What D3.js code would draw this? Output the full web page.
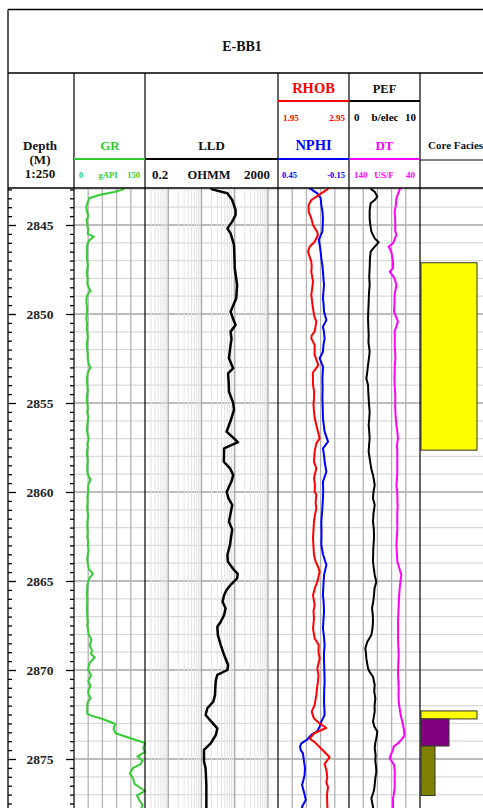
<!DOCTYPE html>
<html>
<head>
<meta charset="utf-8">
<script src="https://cdn.jsdelivr.net/npm/d3@7"></script>
<style>
  body{margin:0;background:#fff;}
  svg{display:block;font-family:"Liberation Serif","Times New Roman",serif;font-weight:bold;}
</style>
</head>
<body>
<svg id="log" width="483" height="808"></svg>
<script>
// well and curves: [depth (m), value]
const wellName = 'E-BB1';

const GR = [[2842.9,106],[2843.0,104],[2843.15,85],[2843.3,55],[2843.5,32],[2843.8,28],[2844.0,26],[2844.2,27],[2844.5,30],[2844.7,27],[2845.0,28],[2845.3,30],[2845.5,29],[2845.65,42],[2845.85,33],[2846.0,29],[2846.3,27],[2846.5,28],[2846.8,27],[2847,28],[2847.3,29],[2847.5,28],[2847.8,27],[2848,29],[2848.3,28],[2848.5,31],[2848.7,35],[2848.9,29],[2849,27],[2849.3,26],[2849.5,27],[2849.8,28],[2850,27],[2850.3,26],[2850.5,28],[2850.8,27],[2851,28],[2851.3,29],[2851.5,28],[2851.8,27],[2852,28],[2852.3,29],[2852.5,29],[2852.8,31],[2853,35],[2853.3,29],[2853.7,27],[2854,28],[2854.3,29],[2854.5,28],[2854.8,27],[2855,28],[2855.3,29],[2855.5,28],[2855.8,30],[2856,29],[2856.3,28],[2856.5,27],[2856.8,29],[2857,31],[2857.3,28],[2857.5,29],[2857.8,27],[2858,28],[2858.3,29],[2858.5,28],[2858.8,28],[2859,29],[2859.3,35],[2859.6,30],[2860,30],[2860.3,28],[2860.5,29],[2860.8,28],[2861,28],[2861.3,30],[2861.5,29],[2861.8,28],[2862,28],[2862.3,29],[2862.5,28],[2862.8,30],[2863,29],[2863.3,31],[2863.5,29],[2863.8,28],[2864,29],[2864.3,31],[2864.6,40],[2864.8,34],[2865,30],[2865.3,28],[2865.5,28],[2865.8,27],[2866,28],[2866.3,28],[2866.5,27],[2866.8,28],[2867,28],[2867.3,29],[2867.5,28],[2867.8,30],[2868,31],[2868.3,37],[2868.6,33],[2868.9,38],[2869.1,36],[2869.3,44],[2869.6,33],[2869.8,31],[2870,30],[2870.3,36],[2870.6,30],[2870.9,35],[2871.1,31],[2871.3,30],[2871.6,35],[2871.8,29],[2872,28],[2872.3,28],[2872.45,28],[2872.55,35],[2872.75,60],[2872.95,80],[2873.05,88],[2873.2,84],[2873.35,84],[2873.55,88],[2873.75,110],[2874.1,150],[2874.4,146],[2874.6,150],[2874.85,134],[2875.1,145],[2875.3,140],[2875.5,125],[2875.8,118],[2876.1,125],[2876.4,128],[2876.6,139],[2876.8,150],[2877.05,133],[2877.3,138],[2877.6,145],[2877.9,140]];

const LLD = [[2842.9,19],[2843.0,21],[2843.22,60],[2843.6,84],[2844.16,106],[2844.44,106],[2844.81,84],[2845.19,60],[2845.47,75],[2846.12,95],[2846.8,98],[2847.43,100],[2848.37,118],[2849.12,111],[2849.87,75],[2850.3,90],[2850.62,106],[2850.99,75],[2851.4,80],[2851.74,75],[2852.49,67],[2853.05,89],[2853.33,63],[2853.9,66],[2854.36,67],[2855.0,90],[2855.39,95],[2856.0,75],[2856.61,57],[2857.2,125],[2857.55,48],[2858.3,47],[2858.67,72],[2859.05,90],[2859.4,80],[2860.0,57],[2860.36,65],[2860.73,84],[2861.2,75],[2861.67,67],[2862.1,84],[2862.5,78],[2862.98,72],[2863.54,60],[2863.91,62],[2864.38,95],[2864.6,123],[2864.85,118],[2865.22,75],[2865.5,57],[2865.79,48],[2866.16,43],[2866.53,53],[2866.91,48],[2867.29,38],[2867.57,30],[2868.03,31],[2868.6,38],[2869.16,48],[2869.72,63],[2870.0,60],[2870.28,30],[2870.56,27],[2871.0,26],[2871.4,25.5],[2871.78,22.7],[2872.15,15],[2872.53,13.3],[2872.9,19.8],[2873.28,30],[2873.65,27],[2874.12,18.9],[2874.49,11.9],[2875.15,11.9],[2875.52,13.3],[2876.46,14],[2877.68,14],[2877.9,14]];

const RHOB = [[2842.9,2.66],[2843.0,2.645],[2843.22,2.56],[2843.6,2.419],[2843.88,2.382],[2844.25,2.382],[2844.63,2.419],[2845.0,2.443],[2845.37,2.50],[2845.56,2.513],[2845.94,2.466],[2846.22,2.396],[2846.5,2.373],[2847.06,2.419],[2847.34,2.425],[2847.62,2.419],[2848.18,2.443],[2848.6,2.43],[2848.93,2.419],[2849.3,2.43],[2849.68,2.443],[2850.1,2.46],[2850.43,2.49],[2850.99,2.466],[2851.2,2.425],[2851.37,2.419],[2851.74,2.466],[2852.3,2.466],[2852.87,2.518],[2853.3,2.44],[2853.99,2.443],[2854.4,2.46],[2854.74,2.457],[2855.1,2.45],[2855.49,2.457],[2855.9,2.47],[2856.24,2.49],[2856.99,2.537],[2857.27,2.49],[2857.73,2.466],[2858.3,2.457],[2858.67,2.49],[2859.0,2.47],[2859.23,2.457],[2859.6,2.47],[2859.98,2.466],[2860.17,2.49],[2860.6,2.48],[2860.92,2.49],[2861.3,2.47],[2861.67,2.457],[2862.1,2.45],[2862.6,2.443],[2863.1,2.45],[2863.54,2.457],[2863.9,2.48],[2864.19,2.513],[2864.47,2.537],[2865.04,2.504],[2865.4,2.47],[2865.79,2.443],[2866.35,2.466],[2866.7,2.45],[2867.1,2.457],[2867.66,2.443],[2868.22,2.466],[2868.6,2.523],[2869.0,2.52],[2869.35,2.537],[2869.91,2.504],[2870.3,2.52],[2870.66,2.513],[2871.0,2.50],[2871.4,2.49],[2871.97,2.466],[2872.34,2.425],[2872.73,2.457],[2873.0,2.537],[2873.26,2.63],[2873.54,2.466],[2873.85,2.396],[2874.05,2.466],[2874.52,2.584],[2874.9,2.678],[2875.27,2.607],[2875.6,2.63],[2876.02,2.645],[2876.3,2.63],[2876.58,2.654],[2877.0,2.64],[2877.61,2.645],[2877.9,2.65]];

const NPHI = [[2842.9,0.19],[2843.0,0.168],[2843.22,0.118],[2843.5,0.089],[2843.88,0.084],[2844.25,0.074],[2844.63,0.070],[2845.0,0.072],[2845.37,0.075],[2845.84,0.106],[2846.12,0.098],[2846.5,0.09],[2846.87,0.084],[2847.25,0.075],[2847.62,0.070],[2848.0,0.066],[2848.37,0.061],[2848.75,0.066],[2849.12,0.070],[2849.5,0.064],[2849.87,0.061],[2850.34,0.041],[2850.71,0.070],[2851.0,0.062],[2851.37,0.056],[2851.75,0.066],[2852.12,0.070],[2852.49,0.098],[2852.96,0.070],[2853.3,0.072],[2853.61,0.075],[2854.2,0.073],[2854.74,0.075],[2855.3,0.072],[2855.86,0.070],[2856.2,0.064],[2856.61,0.056],[2857.17,0.027],[2857.55,0.070],[2857.9,0.062],[2858.3,0.056],[2858.86,0.041],[2859.42,0.070],[2859.9,0.068],[2860.36,0.070],[2861.0,0.076],[2861.67,0.084],[2862.3,0.082],[2862.98,0.084],[2863.5,0.07],[2864.1,0.041],[2864.66,0.061],[2865.2,0.066],[2865.79,0.070],[2866.2,0.064],[2866.72,0.061],[2867.2,0.066],[2867.66,0.070],[2868.1,0.062],[2868.6,0.056],[2869.1,0.062],[2869.53,0.061],[2870.1,0.058],[2870.66,0.056],[2871.2,0.06],[2871.78,0.061],[2872.2,0.058],[2872.53,0.056],[2872.9,0.084],[2873.18,0.098],[2873.45,0.12],[2873.65,0.168],[2873.93,0.207],[2874.12,0.253],[2874.3,0.264],[2874.5,0.258],[2874.68,0.239],[2875.15,0.23],[2875.5,0.222],[2875.9,0.225],[2876.2,0.236],[2876.46,0.247],[2877.0,0.225],[2877.3,0.215],[2877.68,0.247],[2877.9,0.24]];

const PEF = [[2842.9,3.1],[2843.0,3.15],[2843.13,3.62],[2843.41,3.99],[2843.6,3.62],[2843.78,3.05],[2844.16,2.91],[2844.63,2.91],[2845.0,3.0],[2845.37,3.15],[2845.75,3.62],[2845.97,4.18],[2846.22,3.62],[2846.5,3.05],[2846.9,2.95],[2847.43,2.91],[2847.9,2.85],[2848.37,2.91],[2848.8,2.82],[2849.31,2.77],[2849.8,2.72],[2850.24,2.68],[2850.7,2.72],[2851.18,2.77],[2851.6,2.74],[2852.12,2.91],[2852.5,2.80],[2852.87,2.68],[2853.3,2.56],[2853.61,2.44],[2853.99,2.68],[2854.4,2.72],[2854.74,2.77],[2855.1,2.82],[2855.49,2.91],[2855.9,2.85],[2856.24,2.77],[2856.6,2.85],[2856.99,2.91],[2857.4,2.82],[2857.73,2.77],[2858.1,2.9],[2858.48,3.05],[2858.8,3.2],[2859.04,3.38],[2859.3,3.5],[2859.61,3.62],[2860.0,3.45],[2860.36,3.38],[2860.73,3.62],[2861.2,3.45],[2861.67,3.38],[2862.1,3.5],[2862.6,3.52],[2863.2,3.42],[2863.91,3.38],[2864.3,3.5],[2864.66,3.62],[2865.04,3.85],[2865.4,3.6],[2865.79,3.52],[2866.2,3.4],[2866.53,3.24],[2866.9,3.35],[2867.29,3.38],[2867.7,3.3],[2868.03,3.15],[2868.41,2.58],[2868.78,2.30],[2869.1,2.4],[2869.35,2.44],[2869.91,2.68],[2870.1,2.9],[2870.38,3.38],[2870.84,3.62],[2871.2,3.55],[2871.59,3.71],[2872.0,3.6],[2872.34,3.62],[2872.9,3.38],[2873.2,3.6],[2873.46,3.99],[2873.84,3.85],[2874.1,3.7],[2874.4,3.62],[2874.8,3.75],[2875.15,3.71],[2875.4,3.8],[2875.71,3.85],[2876.1,3.7],[2876.46,3.62],[2876.8,3.5],[2877.21,3.15],[2877.68,3.38],[2877.9,3.4]];

const DT = [[2842.9,67],[2843.0,68.6],[2843.5,73.3],[2843.9,74],[2844.25,75.7],[2844.6,75],[2845.0,74.7],[2845.3,75],[2845.56,73.3],[2846.03,78],[2846.22,84.1],[2846.5,80.4],[2847.06,78],[2847.43,78],[2847.62,82.7],[2848.0,75.7],[2848.37,73.3],[2848.93,75.7],[2849.4,76],[2849.87,76.6],[2850.43,71],[2850.99,75.7],[2851.4,75.5],[2851.74,75.7],[2852.1,75],[2852.49,74.7],[2852.9,75.5],[2853.24,75.7],[2853.6,76],[2853.99,75.7],[2854.4,75],[2854.74,74.7],[2855.1,75],[2855.49,74.7],[2855.9,74],[2856.24,73.3],[2856.6,72],[2856.99,71],[2857.4,72.5],[2857.73,71.9],[2858.3,72],[2858.86,71.9],[2859.3,72.5],[2859.61,73.3],[2860.0,72],[2860.36,71.9],[2860.8,71.5],[2861.11,71.9],[2861.6,72],[2862.04,71.9],[2862.5,72.5],[2862.98,73.3],[2863.5,72.5],[2863.91,71.9],[2864.3,69],[2864.66,66.3],[2865.0,67.5],[2865.41,68.6],[2865.9,69.5],[2866.35,70],[2866.8,70.5],[2867.29,71],[2867.8,70.8],[2868.22,71],[2868.7,70.5],[2869.16,70],[2869.6,70.5],[2870.1,71],[2870.6,70.5],[2871.03,70],[2871.4,70.3],[2871.78,70],[2872.2,68.5],[2872.53,67.2],[2873.09,63.9],[2873.4,62.5],[2873.7,62],[2873.9,66],[2874.12,71],[2874.3,77],[2874.49,78],[2874.75,81],[2874.96,82.7],[2875.33,76.6],[2875.7,75.5],[2876.08,75.7],[2876.64,75.7],[2877.0,77],[2877.21,78],[2877.68,78],[2877.9,78]];

// core facies intervals
const faciesTop = [2847.12, 2872.3, 2872.75, 2874.27];
const faciesBase = [2857.65, 2872.75, 2874.27, 2877.05];
const faciesCode = [4, 4, 2, 1];

const depthLabels = [2845, 2850, 2855, 2860, 2865, 2870, 2875];

let svg = d3.select('#log');
let W = 483, H = 808;
let trackTop = 188;

let y = d3.scaleLinear().domain([2845, 2875]).range([225, 759]);
let dTop = y.invert(trackTop), dBot = y.invert(H);

let xGR = d3.scaleLinear().domain([0, 150]).range([74, 145]);
let xLLD = d3.scaleLog().domain([0.2, 2000]).range([145, 278]);
let xRHOB = d3.scaleLinear().domain([1.95, 2.95]).range([278, 349]);
let xNPHI = d3.scaleLinear().domain([0.45, -0.15]).range([278, 349]);
let xPEF = d3.scaleLinear().domain([0, 10]).range([349, 420]);
let xDT = d3.scaleLinear().domain([140, 40]).range([349, 420]);
let xFac = d3.scaleLinear().domain([0, 4]).range([421, 477]);
let facColor = d3.scaleOrdinal().domain([4, 2, 1]).range(['#ffff00', '#800080', '#808000']);

svg.append('defs').append('clipPath').attr('id', 'trk')
  .append('rect').attr('x', 74).attr('y', trackTop).attr('width', W - 74).attr('height', H - trackTop);

// ---- grid ----
let grid = svg.append('g');
let metres = d3.range(Math.ceil(dTop), Math.floor(dBot) + 1);
grid.selectAll('.hg')
  .data(metres)
  .enter()
  .append('line')
  .attr('x1', 74).attr('x2', W)
  .attr('y1', d => y(d)).attr('y2', d => y(d))
  .attr('stroke', d => d % 5 === 0 ? '#a6a6a6' : '#d9d9d9')
  .attr('stroke-width', d => d % 5 === 0 ? 1.5 : 1.2);

// linear tracks: 5 divisions
[xGR, xRHOB, xPEF].forEach(s => {
  let [a, b] = s.domain();
  let v = d3.range(1, 5).map(i => a + i * (b - a) / 5);
  grid.selectAll(null)
    .data(v)
    .enter()
    .append('line')
    .attr('x1', d => s(d)).attr('x2', d => s(d))
    .attr('y1', trackTop).attr('y2', H)
    .attr('stroke', '#b3b3b3')
    .attr('stroke-width', 1.3);
});

// log track
let logVals = [];
for (let e = -1; e <= 3; e++) {
  for (let m = 1; m <= 9; m++) {
    let v = m * Math.pow(10, e);
    if (v > 0.2 + 1e-9 && v < 2000 - 1e-9) logVals.push({v: v, major: m === 1});
  }
}
grid.selectAll('.lg')
  .data(logVals.filter(d => !d.major))
  .enter()
  .append('line')
  .attr('x1', d => xLLD(d.v)).attr('x2', d => xLLD(d.v))
  .attr('y1', trackTop).attr('y2', H)
  .attr('stroke', '#e3e3e3');
grid.selectAll('.lgm')
  .data(logVals.filter(d => d.major))
  .enter()
  .append('line')
  .attr('x1', d => xLLD(d.v)).attr('x2', d => xLLD(d.v))
  .attr('y1', trackTop).attr('y2', H)
  .attr('stroke', '#a6a6a6')
  .attr('stroke-width', 1.3);

// ---- core facies ----
let fac = faciesCode.map((c, i) => ({top: faciesTop[i], base: faciesBase[i], code: c}));
svg.append('g').attr('clip-path', 'url(#trk)')
  .selectAll('rect')
  .data(fac)
  .enter()
  .append('rect')
  .attr('x', xFac(0))
  .attr('y', d => y(d.top))
  .attr('width', d => xFac(d.code) - xFac(0))
  .attr('height', d => y(d.base) - y(d.top))
  .attr('fill', d => facColor(d.code))
  .attr('stroke', '#333')
  .attr('stroke-width', 1);

// ---- curves ----
let curves = svg.append('g').attr('clip-path', 'url(#trk)');
function drawCurve(data, xs, color, w) {
  let line = d3.line()
    .x(d => xs(d[1]))
    .y(d => y(d[0]));
  curves.append('path')
    .datum(data)
    .attr('d', line)
    .attr('fill', 'none')
    .attr('stroke', color)
    .attr('stroke-width', w)
    .attr('stroke-linejoin', 'round');
}
drawCurve(GR, xGR, '#33cc33', 2);
drawCurve(LLD, xLLD, '#000', 2.5);
drawCurve(NPHI, xNPHI, '#0000ff', 2);
drawCurve(RHOB, xRHOB, '#ff0000', 2);
drawCurve(PEF, xPEF, '#000', 2);
drawCurve(DT, xDT, '#ff00ff', 2);

// ---- depth track ----
let minor = d3.range(Math.ceil(dTop * 2) / 2, dBot, 0.5).filter(d => d % 5 !== 0);
let depthG = svg.append('g');
depthG.append('g').attr('transform', 'translate(8,0)')
  .call(d3.axisRight(y).tickValues(minor).tickSize(4).tickFormat(''));
depthG.append('g').attr('transform', 'translate(8,0)')
  .call(d3.axisRight(y).tickValues(depthLabels).tickSize(8).tickFormat(''));
depthG.append('g').attr('transform', 'translate(74,0)')
  .call(d3.axisLeft(y).tickValues(minor).tickSize(4).tickFormat(''));
depthG.append('g').attr('transform', 'translate(74,0)')
  .call(d3.axisLeft(y).tickValues(depthLabels).tickSize(8).tickPadding(20).tickFormat(d3.format('d')));
depthG.selectAll('.domain').remove();
depthG.selectAll('.tick line').attr('stroke', '#000').attr('stroke-width', 1.3);
depthG.selectAll('.tick text')
  .attr('x', -34)
  .attr('text-anchor', 'middle')
  .attr('font-family', '"Liberation Serif", serif')
  .attr('font-weight', 'bold')
  .attr('font-size', 13.5)
  .attr('fill', '#222');

// ---- frame ----
let frame = svg.append('g').attr('stroke', '#000').attr('fill', 'none');
frame.append('line').attr('x1', 8).attr('x2', W).attr('y1', 9.5).attr('y2', 9.5).attr('stroke-width', 1.3);
frame.append('line').attr('x1', 8).attr('x2', 8).attr('y1', 9.5).attr('y2', H).attr('stroke-width', 1.3);
frame.append('line').attr('x1', 8).attr('x2', W).attr('y1', 73).attr('y2', 73).attr('stroke-width', 1.3);
frame.append('line').attr('x1', 8).attr('x2', W).attr('y1', trackTop).attr('y2', trackTop).attr('stroke-width', 1.3);
[74, 145, 278, 349, 420].forEach(x => {
  frame.append('line').attr('x1', x).attr('x2', x).attr('y1', 73).attr('y2', H).attr('stroke-width', 1.2);
});

// ---- header ----
let hdr = svg.append('g');
function txt(x, yy, s, size, color, anchor) {
  hdr.append('text')
    .attr('x', x).attr('y', yy)
    .attr('text-anchor', anchor || 'middle')
    .attr('font-size', size)
    .attr('fill', color || '#111')
    .text(s);
}
function bar(x1, x2, yy, color, w) {
  hdr.append('line').attr('x1', x1).attr('x2', x2).attr('y1', yy).attr('y2', yy)
    .attr('stroke', color).attr('stroke-width', w);
}

txt(242, 51, wellName, 14);

// top pair of density / PEF headers
txt(313.5, 93, 'RHOB', 14.5, '#ff0000');
bar(278, 349, 101, '#ff0000', 2);
txt(384.5, 93, 'PEF', 12.5);
bar(349, 420, 101, '#000', 2);
txt(283, 121, xRHOB.domain()[0].toFixed(2), 9, '#ff0000', 'start');
txt(345, 121, xRHOB.domain()[1].toFixed(2), 9, '#ff0000', 'end');
txt(354, 121, xPEF.domain()[0], 11, '#000', 'start');
txt(385, 121, 'b/elec', 11, '#000');
txt(416, 121, xPEF.domain()[1], 11, '#000', 'end');

// curve names
txt(40, 150, 'Depth', 13);
txt(40, 164, '(M)', 13);
txt(40, 178, '1:250', 13);
txt(110, 150, 'GR', 13, '#33cc33');
bar(74, 145, 159, '#33cc33', 2);
txt(211.5, 150, 'LLD', 13);
bar(145, 278, 159, '#000', 2);
txt(313.5, 150, 'NPHI', 14.5, '#0000ff');
bar(278, 349, 159, '#0000ff', 2);
txt(384.5, 150, 'DT', 13, '#ff00ff');
bar(349, 420, 159, '#ff00ff', 2);
txt(428, 149, 'Core Facies', 11, '#111', 'start');
bar(420, W, 160, '#000', 1);

// scales
txt(79, 178, xGR.domain()[0], 8.5, '#33cc33', 'start');
txt(108, 178, 'gAPI', 8.5, '#33cc33');
txt(140, 178, xGR.domain()[1], 8.5, '#33cc33', 'end');
txt(152, 179, xLLD.domain()[0], 13, '#111', 'start');
txt(209, 179, 'OHMM', 12.5, '#111');
txt(270, 179, xLLD.domain()[1], 13, '#111', 'end');
txt(282, 178, xNPHI.domain()[0].toFixed(2), 8.5, '#0000ff', 'start');
txt(345, 178, xNPHI.domain()[1].toFixed(2), 8.5, '#0000ff', 'end');
txt(354, 178, xDT.domain()[0], 9, '#ff00ff', 'start');
txt(384, 178, 'US/F', 9, '#ff00ff');
txt(415, 178, xDT.domain()[1], 9, '#ff00ff', 'end');
</script>
</body>
</html>
